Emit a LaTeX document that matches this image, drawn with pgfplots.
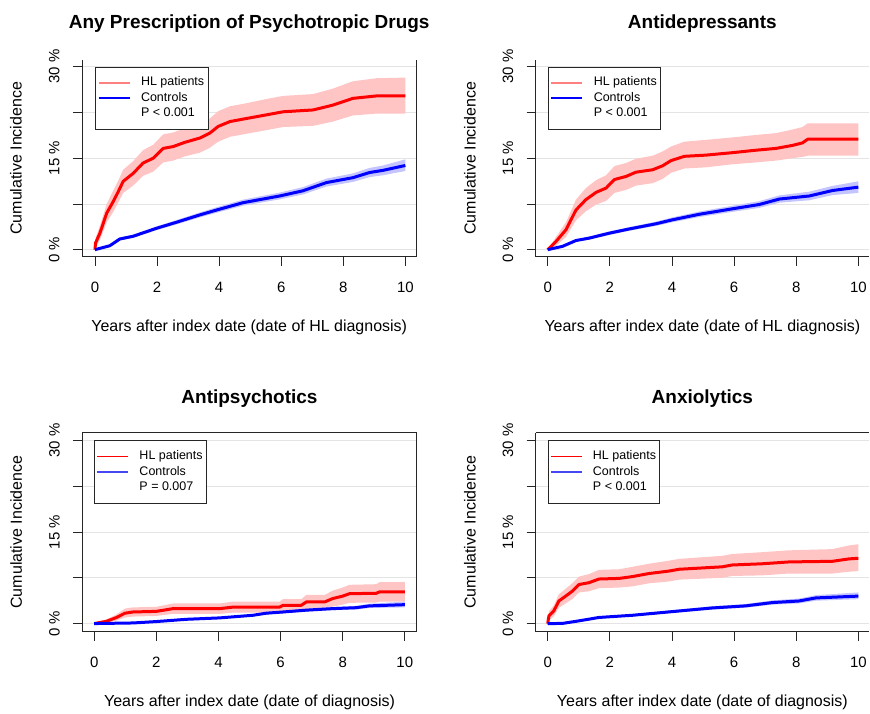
\documentclass[border=0pt]{standalone}
\usepackage{fontspec}
\setmainfont{Liberation Sans}
\usepackage{pgfplots}
\usepackage{pgfplotstable}
\pgfplotsset{compat=1.18}
\usepgfplotslibrary{fillbetween}

\definecolor{pinkband}{RGB}{255,196,196}
\definecolor{blueband}{RGB}{196,196,255}
\definecolor{legred}{RGB}{255,128,128}
\definecolor{legblue}{RGB}{70,70,245}
\definecolor{gridgray}{RGB}{228,228,228}

% columns: x, estimate, lower CI, upper CI (percent)
\pgfplotstableread{
x y lo hi
0 0 0 0
0.02 1.1 0.3 1.9
0.16 2.7 1.6 3.9
0.38 6.0 4.5 7.5
0.59 7.9 6.2 9.7
0.75 9.5 7.7 11.3
0.91 11.2 9.3 13.1
1.23 12.5 10.5 14.5
1.55 14.2 12.1 16.3
1.88 15.0 12.8 17.2
2.2 16.6 14.3 18.9
2.52 16.9 14.6 19.2
2.9 17.6 15.3 19.9
3.38 18.3 15.9 20.7
3.70 19.1 16.7 21.5
3.97 20.2 17.7 22.7
4.35 21.0 18.5 23.5
4.88 21.5 19.0 24.0
5.53 22.1 19.6 24.7
6.06 22.6 20.1 25.2
7.03 22.9 20.3 25.5
7.67 23.7 21.0 26.4
8.31 24.8 22.0 27.6
9.07 25.2 22.3 28.1
10 25.2 22.3 28.2
}\anyHL
\pgfplotstableread{
x y lo hi
0 0 0 0
0.48 0.65 0.45 0.85
0.8 1.75 1.5 2.0
1.23 2.2 1.95 2.45
1.98 3.5 3.2 3.8
2.63 4.5 4.15 4.85
3.38 5.7 5.3 6.1
3.92 6.5 6.05 6.95
4.77 7.7 7.2 8.2
5.95 8.8 8.25 9.35
6.7 9.65 9.05 10.25
7.46 11.0 10.35 11.65
8.31 11.8 11.1 12.5
8.85 12.65 11.9 13.4
9.28 13.0 12.2 13.8
10 13.8 12.9 14.8
}\anyCO
\pgfplotstableread{
x y lo hi
0 0 0 0
0.27 1.36 0.6 2.1
0.59 3.27 2.1 4.5
0.91 6.5 4.8 8.2
1.23 8.2 6.3 10.1
1.56 9.4 7.4 11.4
1.88 10.1 8.0 12.2
2.15 11.5 9.3 13.7
2.52 12.0 9.8 14.2
2.84 12.7 10.5 14.9
3.38 13.1 10.9 15.4
3.7 13.75 11.6 16.1
3.97 14.6 12.6 16.9
4.4 15.3 13.3 17.7
5.1 15.5 13.5 18.0
5.95 15.9 14.0 18.4
6.7 16.3 14.3 18.8
7.35 16.6 14.6 19.1
7.89 17.1 15.0 19.7
8.2 17.5 15.2 20.1
8.37 18.1 15.4 20.7
10 18.1 15.4 20.7
}\adHL
\pgfplotstableread{
x y lo hi
0 0 0 0
0.48 0.55 0.4 0.7
0.91 1.5 1.3 1.7
1.34 1.9 1.65 2.15
1.98 2.7 2.4 3.0
2.63 3.4 3.1 3.7
3.49 4.25 3.9 4.6
4.02 4.9 4.5 5.3
4.88 5.8 5.35 6.25
5.95 6.7 6.2 7.2
6.81 7.4 6.85 7.95
7.46 8.3 7.7 8.9
8.42 8.8 8.1 9.5
9.17 9.7 8.95 10.45
10 10.25 9.3 11.2
}\adCO
\pgfplotstableread{
x y lo hi
0 0 0 0
0.4 0.38 0.1 0.7
0.72 1.0 0.5 1.5
0.99 1.7 1.0 2.45
1.25 1.9 1.15 2.65
2.0 2.0 1.25 2.75
2.54 2.45 1.6 3.3
4.04 2.45 1.6 3.3
4.47 2.7 1.8 3.6
5.97 2.7 1.8 3.6
6.08 3.0 2.0 4.0
6.67 3.0 2.0 4.0
6.83 3.55 2.4 4.7
7.42 3.55 2.4 4.7
7.68 4.1 2.8 5.4
8.0 4.5 3.1 5.9
8.22 4.9 3.4 6.35
9.08 4.96 3.45 6.45
9.19 5.2 3.6 6.8
10 5.2 3.6 6.8
}\apHL
\pgfplotstableread{
x y lo hi
0 0 0 0
1.25 0.1 0.05 0.15
2.0 0.33 0.25 0.42
2.97 0.7 0.58 0.82
4.04 0.93 0.8 1.06
5.11 1.36 1.2 1.52
5.54 1.7 1.5 1.9
6.08 1.9 1.7 2.1
6.83 2.2 1.95 2.45
7.68 2.45 2.2 2.72
8.43 2.6 2.3 2.9
8.86 2.9 2.55 3.25
10 3.1 2.65 3.6
}\apCO
\pgfplotstableread{
x y lo hi
0 0 0 0
0.04 1.25 0.5 2.0
0.2 2.1 1.2 3.0
0.36 3.7 2.6 4.8
0.58 4.5 3.3 5.7
0.79 5.3 4.0 6.6
1.01 6.4 5.1 7.7
1.33 6.7 5.3 8.1
1.65 7.3 5.8 8.8
2.3 7.4 5.9 8.9
2.73 7.7 6.1 9.3
3.26 8.2 6.6 9.8
3.9 8.6 6.9 10.3
4.23 8.9 7.2 10.6
5.62 9.3 7.5 11.1
5.94 9.6 7.8 11.4
6.91 9.8 7.9 11.7
7.77 10.1 8.2 12.0
9.16 10.2 8.2 12.2
9.7 10.6 8.5 12.8
10 10.7 8.6 13.0
}\axHL
\pgfplotstableread{
x y lo hi
0 0 0 0
0.47 0.02 0 0.05
1.0 0.44 0.35 0.55
1.65 1.0 0.85 1.15
2.73 1.36 1.2 1.55
4.01 1.96 1.75 2.2
5.3 2.56 2.3 2.85
6.37 2.9 2.6 3.2
7.23 3.44 3.1 3.8
8.09 3.7 3.3 4.1
8.63 4.2 3.75 4.65
10 4.5 4.0 5.1
}\axCO

\pgfplotsset{
  km/.style={
    scale only axis, anchor=south west,
    width=335pt,
    xtick={0,2,4,6,8,10}, ytick={0,7.5,15,22.5,30},
    yticklabels={0 \%,{},15 \%,{},30 \%},
    xtick pos=bottom, ytick pos=left, tick align=outside,
    major tick length=9pt,
    tick style={black!85, line width=0.8pt},
    axis line style={black!85, line width=0.8pt},
    ymajorgrids, grid style={gridgray, line width=0.8pt},
    /pgf/number format/assume math mode=true,
    tick label style={font=\fontsize{15}{18}\selectfont},
    xticklabel style={anchor=north, yshift=-13pt},
    yticklabel style={rotate=90, anchor=south},
    yticklabel shift=10pt,
    label style={font=\fontsize{16}{19}\selectfont},
    xlabel style={at={(0.5,0)}, anchor=center, yshift=-71pt},
    ylabel style={at={(-0.197,0.5)}, anchor=center},
    ylabel={Cumulative Incidence},
    title style={font=\bfseries\fontsize{19}{23}\selectfont, at={(0.5,1)}, anchor=center},
    legend style={at={(axis cs:0,30)}, anchor=north west, draw=black!85,
      line width=0.8pt, fill=white, font=\fontsize{12.5}{15}\selectfont,
      inner xsep=2pt, inner ysep=8pt, row sep=0pt, column sep=8.5pt,
      nodes={inner sep=1.75pt, text height=9pt, text depth=3pt},
      cells={anchor=west}},
    legend image code/.code={\path (0pt,0pt) -- (7pt,0pt);
      \draw[##1] (7pt,0pt) -- (31pt,0pt);},
  },
  toprow/.style={km, height=197pt, ymin=-1.15, ymax=31.1, axis x line*=bottom,
    title style={yshift=30.5pt}},
  botrow/.style={km, height=199pt, ymin=-1.31, ymax=31.26,
    title style={yshift=28.5pt}},
}

\newcommand{\band}[3]{%
  \addplot[name path=H#1, draw=none, forget plot] table[x=x,y=hi]{#2};
  \addplot[name path=L#1, draw=none, forget plot] table[x=x,y=lo]{#2};
  \addplot[fill=#3, draw=none, forget plot] fill between[of=H#1 and L#1];
}

\begin{document}
\begin{tikzpicture}
\path (0,0) rectangle (870pt,709pt);

% top left
\begin{axis}[toprow, at={(82pt,452pt)}, xmin=-0.42, xmax=10.36,
  title={Any Prescription of Psychotropic Drugs},
  xlabel={Years after index date (date of HL diagnosis)}]
\band{a}{\anyHL}{pinkband}
\band{b}{\anyCO}{blueband}
\addplot[red, line width=3pt, line join=round, forget plot] table[x=x,y=y]{\anyHL};
\addplot[blue, line width=3pt, line join=round, forget plot] table[x=x,y=y]{\anyCO};
\addlegendimage{legred, line width=2pt}\addlegendentry{HL patients}
\addlegendimage{blue, line width=2.5pt}\addlegendentry{Controls}
\addlegendimage{empty legend}\addlegendentry{P < 0.001}
\end{axis}

% top right
\begin{axis}[toprow, at={(536.3pt,452pt)}, width=333.7pt, xmin=-0.386, xmax=10.343,
  axis y line*=left,
  title={Antidepressants},
  xlabel={Years after index date (date of HL diagnosis)}]
\band{a}{\adHL}{pinkband}
\band{b}{\adCO}{blueband}
\addplot[red, line width=3pt, line join=round, forget plot] table[x=x,y=y]{\adHL};
\addplot[blue, line width=3pt, line join=round, forget plot] table[x=x,y=y]{\adCO};
\addlegendimage{legred, line width=2pt}\addlegendentry{HL patients}
\addlegendimage{blue, line width=2.5pt}\addlegendentry{Controls}
\addlegendimage{empty legend}\addlegendentry{P < 0.001}
\end{axis}

% bottom left
\begin{axis}[botrow, at={(82.3pt,76.7pt)}, xmin=-0.386, xmax=10.386,
  title={Antipsychotics},
  xlabel={Years after index date (date of diagnosis)}]
\band{a}{\apHL}{pinkband}
\band{b}{\apCO}{blueband}
\addplot[red, line width=3pt, line join=round, forget plot] table[x=x,y=y]{\apHL};
\addplot[blue, line width=3pt, line join=round, forget plot] table[x=x,y=y]{\apCO};
\addlegendimage{red, line width=1.7pt}\addlegendentry{HL patients}
\addlegendimage{legblue, line width=1.2pt}\addlegendentry{Controls}
\addlegendimage{empty legend}\addlegendentry{P = 0.007}
\end{axis}

% bottom right
\begin{axis}[botrow, at={(536.3pt,76.7pt)}, width=333.7pt, xmin=-0.386, xmax=10.343,
  axis y line*=left,
  title={Anxiolytics},
  xlabel={Years after index date (date of diagnosis)}]
\band{a}{\axHL}{pinkband}
\band{b}{\axCO}{blueband}
\addplot[red, line width=3pt, line join=round, forget plot] table[x=x,y=y]{\axHL};
\addplot[blue, line width=3pt, line join=round, forget plot] table[x=x,y=y]{\axCO};
\addlegendimage{red, line width=1.7pt}\addlegendentry{HL patients}
\addlegendimage{legblue, line width=1.2pt}\addlegendentry{Controls}
\addlegendimage{empty legend}\addlegendentry{P < 0.001}
\end{axis}
\end{tikzpicture}
\end{document}
